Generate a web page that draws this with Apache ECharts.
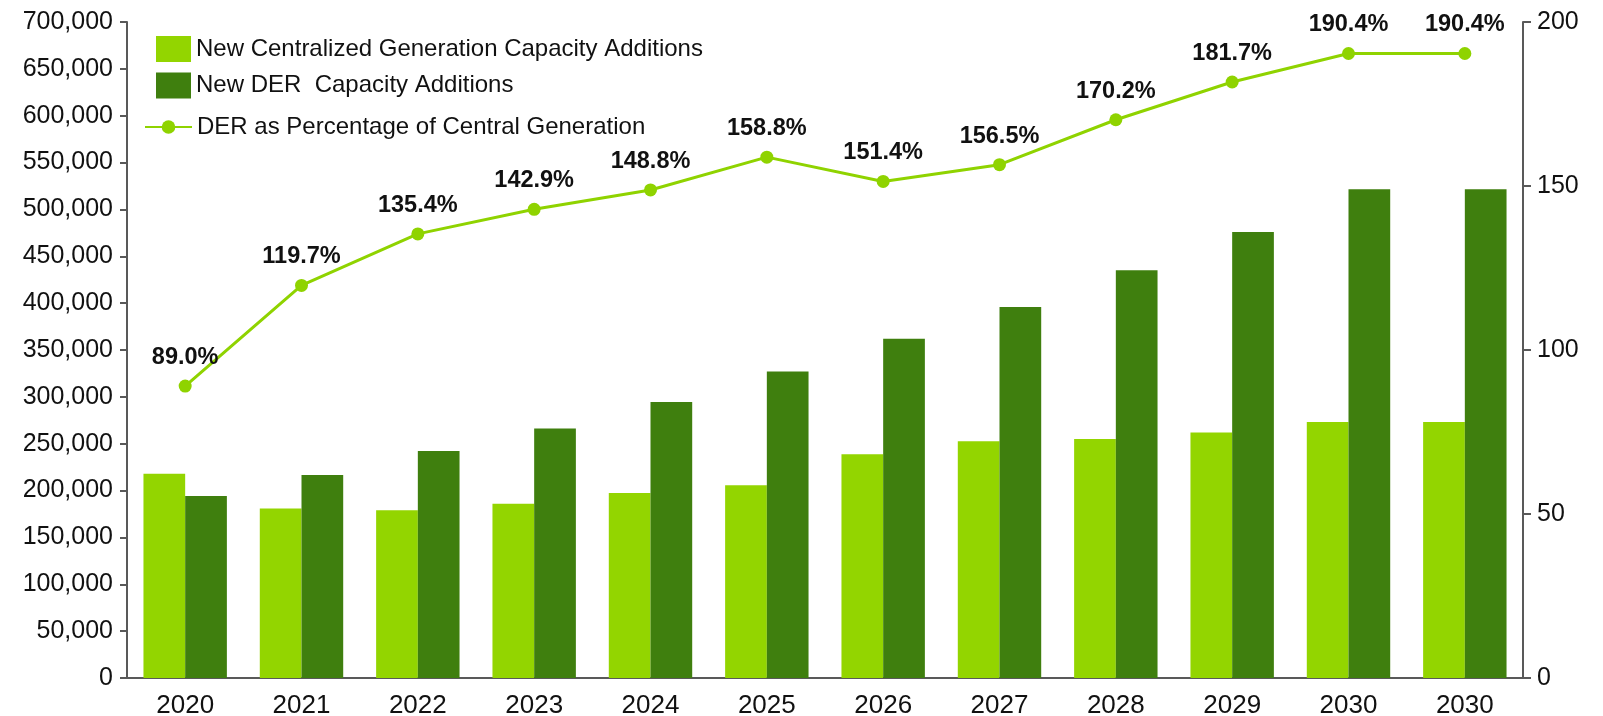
<!DOCTYPE html>
<html>
<head>
<meta charset="utf-8">
<script src="https://cdn.jsdelivr.net/npm/echarts@6/dist/echarts.min.js"></script>
<style>
html,body{margin:0;padding:0;background:#fff;}
#c{width:1603px;height:716px;}
</style>
</head>
<body>
<div id="c"></div>
<script>
const categories = ['2020','2021','2022','2023','2024','2025','2026','2027','2028','2029','2030','2030'];
const centralized = [218000, 181000, 179000, 186000, 197500, 205700, 238800, 252700, 255000, 262000, 273300, 273300];
const der = [194300, 216700, 242300, 266200, 294600, 327000, 362000, 396000, 435000, 475800, 521400, 521400];
const derPct = [89.0, 119.7, 135.4, 142.9, 148.8, 158.8, 151.4, 156.5, 170.2, 181.7, 190.4, 190.4];
const leftAxisTicks = [0, 700000, 50000];   // min, max, interval
const rightAxisTicks = [0, 200, 50];        // min, max, interval

const FONT = 'Liberation Sans, Arial, sans-serif';
const LIGHT = '#93d500';
const DARK = '#3f7f0e';
const LINE = '#8fd300';
const AXIS = '#595959';

const chart = echarts.init(document.getElementById('c'));
chart.setOption({
  animation: false,
  backgroundColor: '#fff',
  grid: { left: 127, right: 80, top: 22, bottom: 38, containLabel: false, outerBoundsMode: 'none' },
  legend: [
    {
      orient: 'vertical', left: 151, top: 31, icon: 'rect',
      itemWidth: 35, itemHeight: 26, itemGap: 10.5,
      textStyle: { fontFamily: FONT, fontSize: 24, color: '#111' },
      data: ['New Centralized Generation Capacity Additions', 'New DER  Capacity Additions']
    },
    {
      orient: 'vertical', left: 139, top: 110,
      itemWidth: 47, itemHeight: 17,
      textStyle: { fontFamily: FONT, fontSize: 24, color: '#111' },
      data: ['DER as Percentage of Central Generation']
    }
  ],
  xAxis: {
    type: 'category',
    data: categories,
    axisLine: { show: true, lineStyle: { color: AXIS, width: 2 } },
    axisTick: { show: false },
    axisLabel: { fontFamily: FONT, fontSize: 26, color: '#111', margin: 15 },
    splitLine: { show: false }
  },
  yAxis: [
    {
      type: 'value', min: leftAxisTicks[0], max: leftAxisTicks[1], interval: leftAxisTicks[2],
      axisLine: { show: true, lineStyle: { color: AXIS, width: 2 } },
      axisTick: { show: true, length: 7, lineStyle: { color: AXIS, width: 2 } },
      axisLabel: { fontFamily: FONT, fontSize: 25, color: '#111', margin: 14,
        formatter: v => v.toLocaleString('en-US') },
      splitLine: { show: false }
    },
    {
      type: 'value', min: rightAxisTicks[0], max: rightAxisTicks[1], interval: rightAxisTicks[2],
      position: 'right',
      axisLine: { show: true, lineStyle: { color: AXIS, width: 2 } },
      axisTick: { show: true, length: 8, lineStyle: { color: AXIS, width: 2 } },
      axisLabel: { fontFamily: FONT, fontSize: 25, color: '#111', margin: 14 },
      splitLine: { show: false }
    }
  ],
  series: [
    {
      name: 'New Centralized Generation Capacity Additions',
      type: 'bar', data: centralized,
      itemStyle: { color: LIGHT },
      barGap: '0%', barCategoryGap: '28.3%'
    },
    {
      name: 'New DER  Capacity Additions',
      type: 'bar', data: der,
      itemStyle: { color: DARK },
      barGap: '0%', barCategoryGap: '28.3%'
    },
    {
      name: 'DER as Percentage of Central Generation',
      type: 'line', yAxisIndex: 1, data: derPct,
      symbol: 'circle', symbolSize: 13,
      lineStyle: { color: LINE, width: 3 },
      itemStyle: { color: LINE },
      z: 5,
      label: {
        show: true, position: 'top', distance: 10,
        fontFamily: FONT, fontSize: 23.5, fontWeight: 'bold', color: '#111',
        formatter: p => p.value.toFixed(1) + '%'
      }
    }
  ]
});
</script>
</body>
</html>
